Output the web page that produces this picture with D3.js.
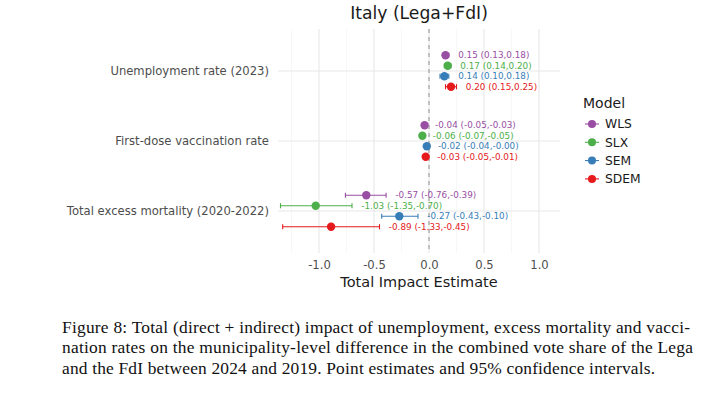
<!DOCTYPE html>
<html><head><meta charset="utf-8">
<script src="https://cdn.jsdelivr.net/npm/d3@7"></script>
<style>html,body{margin:0;padding:0;background:#fff;}svg{display:block;}</style>
</head><body>
<script>
// ---- data ----
const variables = ["Unemployment rate (2023)", "First-dose vaccination rate", "Total excess mortality (2020-2022)"];
const models = ["WLS", "SLX", "SEM", "SDEM"];
const modelColors = ["#984EA3", "#4DAF4A", "#377EB8", "#E41A1C"];
const estWLS  = [0.15, -0.04, -0.57];
const loWLS   = [0.13, -0.05, -0.76];
const hiWLS   = [0.18, -0.03, -0.39];
const estSLX  = [0.17, -0.06, -1.03];
const loSLX   = [0.14, -0.07, -1.35];
const hiSLX   = [0.20, -0.05, -0.70];
const estSEM  = [0.14, -0.02, -0.27];
const loSEM   = [0.10, -0.04, -0.43];
const hiSEM   = [0.18, -0.004, -0.10];
const estSDEM = [0.20, -0.03, -0.89];
const loSDEM  = [0.15, -0.05, -1.33];
const hiSDEM  = [0.25, -0.01, -0.45];
const xTicks = [-1.0, -0.5, 0.0, 0.5, 1.0];
const xMinor = [-1.25, -0.75, -0.25, 0.25, 0.75];
const captionLines = [
  "Figure 8: Total (direct + indirect) impact of unemployment, excess mortality and vacci-",
  "nation rates on the municipality-level difference in the combined vote share of the Lega",
  "and the FdI between 2024 and 2019. Point estimates and 95% confidence intervals."
];

const seriesTable = {
  WLS: [estWLS, loWLS, hiWLS], SLX: [estSLX, loSLX, hiSLX],
  SEM: [estSEM, loSEM, hiSEM], SDEM: [estSDEM, loSDEM, hiSDEM]
};
const rows = [];
models.forEach((m, mi) => {
  const [e, l, h] = seriesTable[m];
  variables.forEach((v, vi) => rows.push({model: m, mi, variable: v, est: e[vi], lo: l[vi], hi: h[vi]}));
});
const f = v => v.toFixed(2);

// ---- layout ----
const W = 726, H = 399;
const panel = {left: 278, right: 560, top: 29, bottom: 253};
const svg = d3.select("body").append("svg").attr("width", W).attr("height", H);
svg.append("rect").attr("width", W).attr("height", H).attr("fill", "#fff");

const x = d3.scaleLinear().domain([-1.3727, 1.1909]).range([panel.left, panel.right]);
const yc = d3.scaleLinear().domain([0.4, 3.6]).range([panel.top, panel.bottom]);
const yBand = v => yc(variables.indexOf(v) + 1);
const dodge = d3.scaleLinear().domain([0, 3]).range([-15.75, 15.75]);
const color = d3.scaleOrdinal().domain(models).range(modelColors);
const sans = "DejaVu Sans, sans-serif";

// grid
const g = svg.append("g");
g.selectAll(".minor").data(xMinor).join("line")
  .attr("x1", d => x(d)).attr("x2", d => x(d)).attr("y1", panel.top).attr("y2", panel.bottom)
  .attr("stroke", "#F2F2F2").attr("stroke-width", 0.6);
g.selectAll(".major").data(xTicks).join("line")
  .attr("x1", d => x(d)).attr("x2", d => x(d)).attr("y1", panel.top).attr("y2", panel.bottom)
  .attr("stroke", "#E8E8E8").attr("stroke-width", 1.1);
g.selectAll(".hmajor").data(variables).join("line")
  .attr("x1", panel.left).attr("x2", panel.right).attr("y1", d => yBand(d)).attr("y2", d => yBand(d))
  .attr("stroke", "#E8E8E8").attr("stroke-width", 1.1);

// zero line
g.append("line").attr("x1", x(0)).attr("x2", x(0)).attr("y1", panel.top).attr("y2", panel.bottom)
  .attr("stroke", "#999").attr("stroke-width", 1.1).attr("stroke-dasharray", "4,4");

// axes
const xAxis = d3.axisBottom(x).tickValues(xTicks).tickFormat(d3.format(".1f")).tickSize(0).tickPadding(0);
const ax = svg.append("g").attr("transform", `translate(0,${panel.bottom})`).call(xAxis);
ax.select(".domain").remove();
ax.selectAll("text").attr("font-family", sans).attr("font-size", 11.6).attr("fill", "#4D4D4D")
  .attr("y", 8).attr("dy", "0.71em").text(d => d.toFixed(1));

const yAxis = d3.axisLeft(d3.scalePoint().domain(variables).range([yBand(variables[0]), yBand(variables[2])]))
  .tickSize(0).tickPadding(9);
const ay = svg.append("g").attr("transform", `translate(${panel.left},0)`).call(yAxis);
ay.select(".domain").remove();
ay.selectAll("text").attr("font-family", sans).attr("font-size", 11.6).attr("fill", "#4D4D4D");

// error bars
const marks = svg.append("g");
const rowY = d => yBand(d.variable) + dodge(d.mi);
marks.selectAll(".eb").data(rows).join("line")
  .attr("x1", d => x(d.lo)).attr("x2", d => x(d.hi)).attr("y1", rowY).attr("y2", rowY)
  .attr("stroke", d => color(d.model)).attr("stroke-width", 1.1);
["lo", "hi"].forEach(k => {
  marks.selectAll(".cap" + k).data(rows).join("line")
    .attr("x1", d => x(d[k])).attr("x2", d => x(d[k]))
    .attr("y1", d => rowY(d) - 2.6).attr("y2", d => rowY(d) + 2.6)
    .attr("stroke", d => color(d.model)).attr("stroke-width", 1.1);
});
marks.selectAll(".pt").data(rows).join("circle")
  .attr("cx", d => x(d.est)).attr("cy", rowY).attr("r", 4.2)
  .attr("fill", d => color(d.model));
marks.selectAll(".lbl").data(rows).join("text")
  .attr("x", d => x(d.hi + 0.085)).attr("y", rowY).attr("dy", "0.35em")
  .attr("font-family", sans).attr("font-size", 8.8).attr("fill", d => color(d.model))
  .text(d => `${f(d.est)} (${f(d.lo)},${f(d.hi)})`);

// titles
svg.append("text").attr("x", (panel.left + panel.right) / 2).attr("y", 18.5).attr("text-anchor", "middle")
  .attr("font-family", sans).attr("font-size", 17.2).attr("fill", "#1a1a1a").text("Italy (Lega+FdI)");
svg.append("text").attr("x", (panel.left + panel.right) / 2).attr("y", 286.5).attr("text-anchor", "middle")
  .attr("font-family", sans).attr("font-size", 14.5).attr("fill", "#1a1a1a").text("Total Impact Estimate");

// legend
const lg = svg.append("g").attr("transform", "translate(583,0)");
lg.append("text").attr("x", 0).attr("y", 108).attr("font-family", sans).attr("font-size", 14)
  .attr("fill", "#1a1a1a").text("Model");
const li = lg.selectAll(".li").data(models).join("g")
  .attr("transform", (d, i) => `translate(0,${124 + i * 18.3})`);
li.append("line").attr("x1", 2).attr("x2", 16).attr("stroke", d => color(d)).attr("stroke-width", 1.1);
li.append("circle").attr("cx", 9).attr("r", 4).attr("fill", d => color(d));
li.append("text").attr("x", 22).attr("dy", "0.35em").attr("font-family", sans).attr("font-size", 12.3)
  .attr("fill", "#1a1a1a").text(d => d);

// caption
const cap = svg.append("g");
const capWidths = [628, 631, 593];
captionLines.forEach((t, i) => {
  cap.append("text").attr("x", 62).attr("y", 333 + i * 20.3)
    .attr("font-family", "Liberation Serif, serif").attr("font-size", 17.4).attr("fill", "#111")
    .attr("textLength", capWidths[i]).attr("lengthAdjust", "spacing").text(t);
});
</script>
</body></html>
